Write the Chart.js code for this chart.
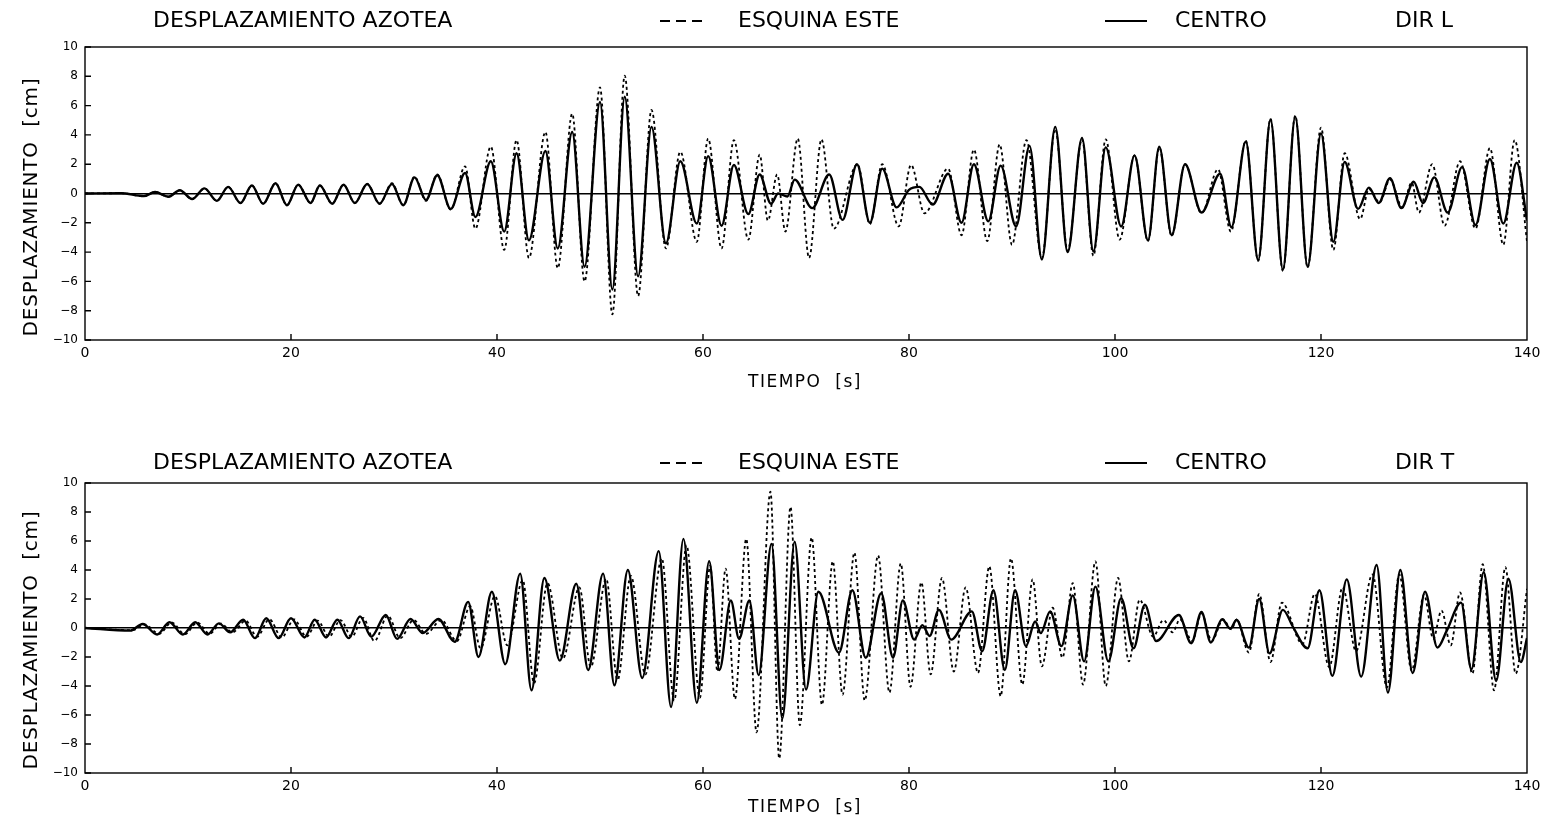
<!DOCTYPE html>
<html>
<head>
<meta charset="utf-8">
<script src="https://cdn.jsdelivr.net/npm/chart.js@4.4.1/dist/chart.umd.min.js"></script>
<style>
  html, body { margin: 0; padding: 0; background: #fff; }
  body { width: 1549px; height: 825px; position: relative; overflow: hidden; font-family: "DejaVu Sans", sans-serif; color: #000; }
  canvas { position: absolute; left: 0; }
  .hdr { position: absolute; font-size: 22px; line-height: 26px; white-space: pre; }
  .smp { position: absolute; width: 42px; height: 2px; }
  .smp.dash { background: repeating-linear-gradient(90deg, #000 0 10px, transparent 10px 16px); }
  .smp.solid { background: #000; }
  .xt { position: absolute; font-size: 17px; letter-spacing: 1.5px; white-space: pre; transform: translate(-50%, -50%); }
  .yt { position: absolute; font-size: 20px; letter-spacing: 0.8px; white-space: pre; transform: translate(-50%, -50%) rotate(-90deg); }
</style>
</head>
<body>
<canvas id="topChart" width="1549" height="400" style="top:0"></canvas>
<canvas id="botChart" width="1549" height="395" style="top:430px"></canvas>

<div class="hdr" style="left:153px; top:7px">DESPLAZAMIENTO AZOTEA</div>
<div class="smp dash" style="left:660px; top:20px"></div>
<div class="hdr" style="left:738px; top:7px">ESQUINA ESTE</div>
<div class="smp solid" style="left:1105px; top:20px"></div>
<div class="hdr" style="left:1175px; top:7px">CENTRO</div>
<div class="hdr" style="left:1395px; top:7px">DIR L</div>
<div class="xt" style="left:805px; top:381px">TIEMPO  [s]</div>
<div class="yt" style="left:30px; top:207px">DESPLAZAMIENTO  [cm]</div>

<div class="hdr" style="left:153px; top:449px">DESPLAZAMIENTO AZOTEA</div>
<div class="smp dash" style="left:660px; top:462px"></div>
<div class="hdr" style="left:738px; top:449px">ESQUINA ESTE</div>
<div class="smp solid" style="left:1105px; top:462px"></div>
<div class="hdr" style="left:1175px; top:449px">CENTRO</div>
<div class="hdr" style="left:1395px; top:449px">DIR T</div>
<div class="xt" style="left:805px; top:806px">TIEMPO  [s]</div>
<div class="yt" style="left:30px; top:640px">DESPLAZAMIENTO  [cm]</div>

<script>
// time [s] / displacement [cm] at the turning points

// DIR L
const topEsquina = [
  [0,0],[3.5,0.02],[5.7,-0.18],[6.8,0.1],[8.1,-0.22],[9.2,0.22],[10.4,-0.38],[11.6,0.35],[12.8,-0.5],[13.9,0.45],
  [15.1,-0.65],[16.2,0.55],[17.3,-0.7],[18.5,0.7],[19.6,-0.8],[20.7,0.6],[21.9,-0.65],[22.8,0.55],[24.0,-0.7],[25.1,0.6],
  [26.2,-0.65],[27.4,0.65],[28.6,-0.7],[29.8,0.7],[30.9,-0.8],[32.0,1.15],[33.1,-0.5],[34.2,1.3],[35.5,-1.1],[36.9,1.85],
  [37.9,-2.4],[39.4,3.2],[40.7,-3.85],[41.9,3.65],[43.1,-4.4],[44.7,4.2],[45.9,-5.1],[47.3,5.45],[48.5,-6.0],[50.0,7.25],
  [51.2,-8.25],[52.4,8.05],[53.7,-7.0],[55.0,5.7],[56.4,-3.75],[57.8,2.85],[59.4,-3.3],[60.5,3.75],[61.8,-3.75],[63.0,3.65],
  [64.4,-3.15],[65.5,2.65],[66.3,-1.85],[67.2,1.3],[68.0,-2.6],[69.2,3.75],[70.3,-4.4],[71.5,3.7],[72.7,-2.4],[75.0,2.0],
  [76.2,-2.1],[77.4,2.0],[79.0,-2.25],[80.2,1.95],[81.5,-1.35],[83.8,1.7],[85.1,-2.85],[86.3,3.0],[87.6,-3.25],[88.8,3.35],
  [90.0,-3.5],[91.4,3.65],[92.9,-4.4],[94.2,4.4],[95.4,-3.9],[96.8,3.7],[97.9,-4.25],[99.1,3.7],[100.45,-3.15],[101.9,2.6],
  [103.2,-3.25],[104.3,3.15],[105.5,-2.9],[106.8,2.0],[108.4,-1.35],[110.0,1.65],[111.25,-2.6],[112.7,3.6],[113.9,-4.6],[115.1,5.1],
  [116.3,-5.3],[117.5,5.3],[118.7,-5.05],[120.0,4.5],[121.2,-3.85],[122.3,2.75],[123.8,-1.75],[124.65,0.3],[125.7,-0.6],[126.7,0.95],
  [127.9,-0.95],[128.8,0.75],[129.5,-1.3],[130.8,2.0],[132.0,-2.2],[133.5,2.2],[135.0,-2.4],[136.4,3.1],[137.7,-3.5],[138.8,3.65],
  [140,-3.3]
];
const topCentro = [
  [0,0],[3.5,0.02],[5.7,-0.18],[6.8,0.1],[8.1,-0.22],[9.2,0.22],[10.4,-0.38],[11.6,0.35],[12.8,-0.5],[13.9,0.45],
  [15.1,-0.65],[16.2,0.55],[17.3,-0.7],[18.5,0.7],[19.6,-0.8],[20.7,0.6],[21.9,-0.65],[22.8,0.55],[24.0,-0.7],[25.1,0.6],
  [26.2,-0.65],[27.4,0.65],[28.6,-0.7],[29.8,0.65],[30.9,-0.8],[32.0,1.1],[33.1,-0.45],[34.2,1.25],[35.5,-1.05],[36.9,1.4],
  [37.9,-1.6],[39.4,2.2],[40.7,-2.6],[41.9,2.75],[43.1,-3.2],[44.7,2.9],[45.9,-3.75],[47.3,4.2],[48.5,-5.0],[50.0,6.25],
  [51.2,-6.55],[52.4,6.6],[53.7,-5.65],[55.0,4.55],[56.4,-3.4],[57.8,2.2],[59.4,-2.05],[60.5,2.55],[61.8,-2.2],[63.0,1.95],
  [64.4,-1.4],[65.5,1.3],[66.6,-0.7],[67.3,0.0],[68.2,-0.2],[68.9,0.95],[70.6,-1.0],[72.25,1.3],[73.55,-1.8],[74.95,2.0],
  [76.2,-2.0],[77.4,1.7],[78.8,-0.95],[80.0,0.25],[81.0,0.45],[82.3,-0.75],[83.8,1.35],[85.1,-2.0],[86.3,2.0],[87.7,-1.9],
  [88.9,1.9],[90.4,-2.25],[91.7,3.25],[92.9,-4.5],[94.2,4.55],[95.4,-4.0],[96.8,3.8],[97.9,-3.95],[99.1,3.15],[100.6,-2.25],
  [101.9,2.6],[103.2,-3.2],[104.3,3.2],[105.5,-2.85],[106.8,2.0],[108.4,-1.3],[110.2,1.35],[111.3,-2.3],[112.7,3.55],[113.9,-4.55],
  [115.1,5.05],[116.3,-5.2],[117.5,5.25],[118.7,-5.0],[120.0,4.1],[121.2,-3.3],[122.3,2.15],[123.6,-1.05],[124.65,0.4],[125.6,-0.65],
  [126.7,1.05],[127.8,-1.0],[129.0,0.8],[129.9,-0.65],[131.0,1.1],[132.3,-1.3],[133.7,1.8],[135.0,-2.15],[136.4,2.35],[137.7,-2.05],
  [139.0,2.1],[140,-1.85]
];

// DIR T
const botEsquina = [
  [0,0],[4.6,-0.15],[5.8,0.25],[7.2,-0.4],[8.4,0.38],[9.7,-0.42],[10.9,0.38],[12.1,-0.4],[13.2,0.3],[14.3,-0.3],
  [15.6,0.5],[16.7,-0.6],[17.9,0.6],[19.1,-0.65],[20.3,0.6],[21.5,-0.6],[22.6,0.5],[23.7,-0.6],[24.8,0.55],[25.9,-0.6],
  [27.0,0.7],[28.1,-0.9],[29.4,0.85],[30.6,-0.7],[31.9,0.55],[33.1,-0.4],[34.6,0.55],[36.1,-0.9],[37.4,1.5],[38.4,-1.4],
  [39.8,2.2],[41.0,-1.2],[42.5,3.3],[43.6,-3.8],[44.9,3.1],[46.4,-2.1],[48.0,2.8],[49.1,-2.7],[50.6,3.4],[51.7,-3.6],
  [53.0,3.6],[54.4,-3.2],[56.0,4.8],[57.2,-5.0],[58.4,5.7],[59.7,-4.8],[60.7,4.3],[61.4,-3.0],[62.2,4.1],[63.1,-4.9],
  [64.2,6.15],[65.2,-7.2],[66.55,9.4],[67.4,-9.0],[68.5,8.35],[69.4,-6.7],[70.55,6.25],[71.55,-5.3],[72.6,4.6],[73.55,-4.6],
  [74.7,5.2],[75.7,-5.0],[77.0,5.0],[78.1,-4.45],[79.2,4.45],[80.15,-4.05],[81.2,3.15],[82.1,-3.2],[83.2,3.45],[84.35,-3.0],
  [85.5,2.8],[86.7,-3.1],[87.8,4.25],[88.9,-4.7],[89.9,4.8],[91.0,-3.9],[92.0,3.35],[92.9,-2.65],[93.95,1.4],[94.9,-2.05],
  [95.9,3.1],[96.9,-3.9],[98.1,4.6],[99.1,-4.0],[100.3,3.45],[101.35,-2.3],[102.4,1.95],[103.7,-0.6],[104.7,0.55],[105.6,-0.3],
  [106.3,0.6],[107.5,-0.9],[108.4,1.0],[109.4,-0.9],[110.5,0.6],[111.3,-0.1],[111.8,0.6],[113.0,-1.7],[114.0,2.35],[115.1,-2.35],
  [116.2,1.75],[118.2,-1.1],[119.4,2.35],[120.8,-2.7],[122.1,2.8],[123.4,-1.6],[125.0,3.7],[126.4,-4.1],[127.6,3.7],[128.8,-2.95],
  [130.0,2.3],[130.9,-0.75],[131.7,1.2],[132.6,-1.2],[133.5,2.45],[134.7,-3.15],[135.7,4.4],[136.8,-4.3],[137.9,4.2],[138.9,-3.15],
  [140,2.7]
];
const botCentro = [
  [0,0],[4.4,-0.18],[5.6,0.28],[7.0,-0.45],[8.2,0.4],[9.5,-0.45],[10.7,0.4],[11.9,-0.45],[13.0,0.32],[14.1,-0.3],
  [15.35,0.57],[16.5,-0.7],[17.6,0.67],[18.8,-0.7],[20.0,0.67],[21.3,-0.65],[22.3,0.57],[23.4,-0.65],[24.5,0.57],[25.6,-0.7],
  [26.7,0.8],[27.8,-0.6],[29.2,0.9],[30.3,-0.75],[31.6,0.62],[32.8,-0.35],[34.3,0.62],[35.9,-0.95],[37.2,1.8],[38.2,-2.0],
  [39.5,2.5],[40.8,-2.5],[42.25,3.75],[43.35,-4.3],[44.6,3.45],[46.1,-2.25],[47.7,3.05],[48.85,-2.9],[50.3,3.75],[51.4,-3.95],
  [52.7,4.0],[54.1,-3.45],[55.7,5.3],[56.9,-5.45],[58.1,6.15],[59.4,-5.15],[60.6,4.6],[61.6,-2.9],[62.7,1.9],[63.5,-0.75],
  [64.5,1.9],[65.4,-3.25],[66.65,5.8],[67.7,-6.25],[68.9,5.95],[70.0,-4.25],[71.2,2.5],[73.2,-1.7],[74.5,2.6],[75.8,-2.05],
  [77.3,2.4],[78.45,-2.05],[79.4,1.9],[80.5,-0.8],[81.3,0.2],[82.0,-0.55],[82.9,1.25],[84.1,-0.8],[86.1,1.15],[87.1,-1.6],
  [88.2,2.6],[89.3,-2.9],[90.3,2.6],[91.35,-1.25],[92.25,0.45],[92.8,-0.35],[93.7,1.15],[94.8,-1.25],[95.9,2.25],[97.0,-2.3],
  [98.1,2.85],[99.35,-2.3],[100.6,2.05],[101.8,-1.4],[102.9,1.6],[104.0,-0.9],[106.2,0.9],[107.4,-1.05],[108.4,1.1],[109.3,-1.0],
  [110.4,0.6],[111.2,-0.05],[111.8,0.55],[113.0,-1.35],[114.0,2.0],[115.0,-1.75],[116.3,1.25],[117.3,0.05],[118.7,-1.4],[119.85,2.6],
  [121.1,-3.3],[122.5,3.35],[123.9,-3.35],[125.4,4.35],[126.5,-4.45],[127.7,4.0],[128.9,-3.1],[130.1,2.5],[131.3,-1.35],[132.2,-0.2],
  [133.6,1.75],[134.6,-2.85],[135.8,3.85],[137.0,-3.65],[138.2,3.4],[139.4,-2.35],[140,-0.7]
];

const timeTicks = [0, 20, 40, 60, 80, 100, 120, 140];
const dispTicks = [-10, -8, -6, -4, -2, 0, 2, 4, 6, 8, 10];

const toXY = pts => pts.map(([x, y]) => ({ x, y }));

// frame round the plot and inward tick marks
const frameTicks = {
    id: 'frameTicks',
    afterDraw(chart) {
        const { ctx, chartArea: a, scales: { x, y } } = chart;
        ctx.save();
        ctx.strokeStyle = '#000';
        ctx.lineWidth = 1.4;
        ctx.strokeRect(a.left, a.top, a.right - a.left, a.bottom - a.top);
        ctx.beginPath();
        x.ticks.forEach(t => {
            if (t.value <= x.min || t.value >= x.max) return;
            const px = x.getPixelForValue(t.value);
            ctx.moveTo(px, a.bottom);
            ctx.lineTo(px, a.bottom - 6);
        });
        y.ticks.forEach(t => {
            const py = y.getPixelForValue(t.value);
            ctx.moveTo(a.left, py);
            ctx.lineTo(a.left + 6, py);
        });
        ctx.stroke();
        ctx.restore();
    }
};

function makePanel(id, esquina, centro, padTop, xHeight) {
    const ctx = document.getElementById(id).getContext('2d');
    return new Chart(ctx, {
        type: 'line',
        data: {
            datasets: [
                {
                    label: 'ESQUINA ESTE',
                    data: toXY(esquina),
                    borderColor: '#000',
                    borderWidth: 1.8,
                    borderDash: [3, 3],
                    pointRadius: 0,
                    cubicInterpolationMode: 'monotone',
                    fill: false,
                },
                {
                    label: 'CENTRO',
                    data: toXY(centro),
                    borderColor: '#000',
                    borderWidth: 2.4,
                    pointRadius: 0,
                    cubicInterpolationMode: 'monotone',
                    fill: false,
                }
            ],
        },
        options: {
            responsive: false,
            animation: false,
            devicePixelRatio: 1,
            layout: { padding: { left: 0, top: padTop, right: 22, bottom: 0 } },
            plugins: {
                legend: { display: false },
                tooltip: { enabled: false },
            },
            scales: {
                x: {
                    type: 'linear',
                    min: timeTicks[0],
                    max: timeTicks[timeTicks.length - 1],
                    afterBuildTicks: s => { s.ticks = timeTicks.map(v => ({ value: v })); },
                    afterFit: s => { s.height = xHeight; },
                    grid: { display: false, drawTicks: false },
                    border: { display: false },
                    ticks: {
                        color: '#000',
                        padding: 5,
                        maxRotation: 0,
                        font: { family: 'DejaVu Sans', size: 14 },
                    },
                },
                y: {
                    min: dispTicks[0],
                    max: dispTicks[dispTicks.length - 1],
                    afterBuildTicks: s => { s.ticks = dispTicks.map(v => ({ value: v })); },
                    afterFit: s => { s.width = 85; },
                    grid: {
                        drawTicks: false,
                        color: c => (c.tick && c.tick.value === 0 ? '#000' : 'rgba(0,0,0,0)'),
                        lineWidth: 1.4,
                    },
                    border: { display: false },
                    ticks: {
                        color: '#000',
                        padding: 7,
                        font: { family: 'DejaVu Sans', size: 12 },
                        callback: v => (v < 0 ? '\u2212' + Math.abs(v) : String(v)),
                    },
                },
            },
        },
        plugins: [frameTicks],
    });
}

makePanel('topChart', topEsquina, topCentro, 47, 60);
makePanel('botChart', botEsquina, botCentro, 53, 52);
</script>
</body>
</html>
